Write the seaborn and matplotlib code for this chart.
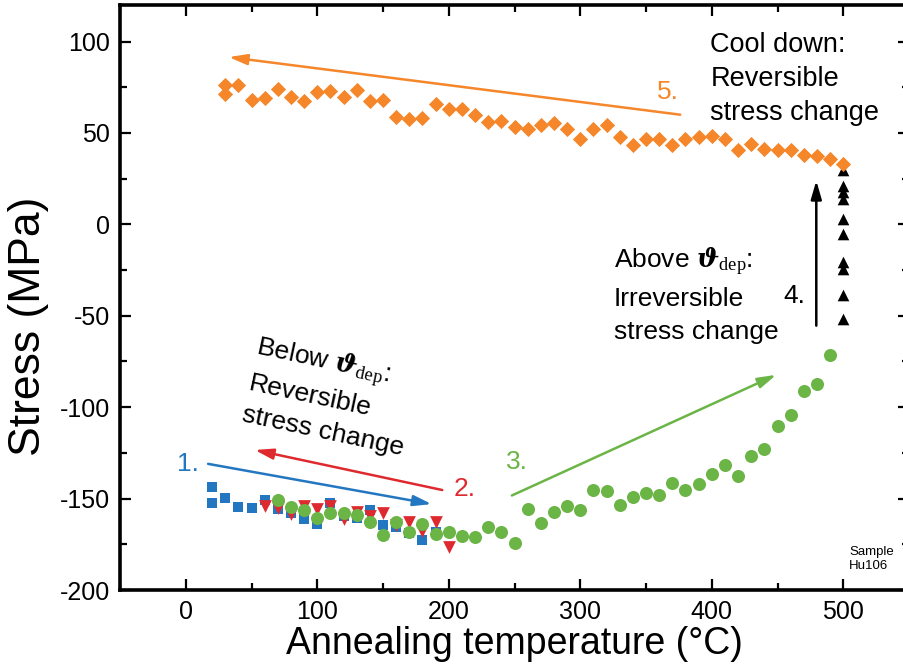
import matplotlib
matplotlib.use("Agg")
import matplotlib.pyplot as plt
import seaborn as sns
import pandas as pd
from matplotlib.ticker import MultipleLocator

# ---- data -----------------------------------------------------------------
# 1. first heating (blue squares)
heat1_T = [20, 20, 30, 40, 50, 60, 70, 80, 90, 100, 110, 120, 130, 140, 150,
           160, 170, 180, 190]
heat1_S = [-143.7, -152.5, -149.8, -154.7, -155.2, -151.0, -155.6, -158.0,
           -161.4, -163.8, -152.5, -159.3, -160.7, -156.2, -164.4, -165.6,
           -168.9, -172.4, -168.4]

# 2. first cool down (red down-triangles)
cool1_T = [60, 70, 80, 90, 100, 110, 120, 130, 140, 150, 160, 170, 180, 190, 200]
cool1_S = [-154.2, -155.2, -158.3, -154.2, -155.6, -154.2, -161.1, -157.1,
           -159.3, -158.0, -164.7, -162.6, -167.5, -162.6, -176.6]

# 3. second heating up to 490 degC (green circles)
heat2_T = [70, 80, 90, 100, 110, 120, 130, 140, 150, 160, 170, 180, 190, 200,
           210, 220, 230, 240, 250, 260, 270, 280, 290, 300, 310, 320, 330,
           340, 350, 360, 370, 380, 390, 400, 410, 420, 430, 440, 450, 460,
           470, 480, 490]
heat2_S = [-151.0, -154.7, -156.5, -160.7, -157.8, -157.8, -158.9, -162.9,
           -169.8, -162.9, -168.4, -163.8, -169.3, -168.4, -170.2, -170.8,
           -165.6, -168.4, -174.2, -155.6, -163.4, -157.1, -154.1, -156.2,
           -145.2, -145.6, -153.3, -149.2, -147.0, -148.3, -141.4, -145.2,
           -141.9, -136.5, -131.4, -137.4, -126.8, -122.8, -110.3, -104.5,
           -90.9, -87.2, -71.7]

# 4. holding at 500 degC (black up-triangles)
hold_T = [500, 500, 500, 500, 500, 500, 500, 500, 500, 500]
hold_S = [30.0, 21.0, 17.7, 14.1, 3.1, -5.1, -20.6, -24.6, -38.9, -52.0]

# 5. final cool down (orange diamonds)
cool2_T = [30, 30, 40, 50, 60, 70, 80, 90, 100, 110, 120, 130, 140, 150, 160,
           170, 180, 190, 200, 210, 220, 230, 240, 250, 260, 270, 280, 290,
           300, 310, 320, 330, 340, 350, 360, 370, 380, 390, 400, 410, 420,
           430, 440, 450, 460, 470, 480, 490, 500]
cool2_S = [76.5, 71.5, 76.5, 67.9, 69.2, 74.3, 69.7, 67.5, 72.5, 72.8, 69.7,
           73.7, 67.3, 67.9, 58.8, 57.9, 58.4, 66.1, 63.3, 62.9, 59.7, 56.0,
           56.4, 53.3, 52.0, 54.2, 55.5, 52.0, 46.5, 52.4, 54.6, 47.8, 43.2,
           46.5, 46.9, 43.2, 46.5, 47.8, 48.4, 46.5, 40.5, 44.2, 41.4, 40.9,
           40.5, 38.2, 37.2, 35.6, 33.2]

x_ticks = [0, 100, 200, 300, 400, 500]
y_ticks = [-200, -150, -100, -50, 0, 50, 100]

BLUE = "#2377c0"
RED = "#de2a2e"
GREEN = "#6bb446"
ORANGE = "#f5862a"
BLACK = "#000000"

# ---- style ----------------------------------------------------------------
sns.set_theme(style="ticks")
plt.rcParams["font.family"] = ["Liberation Sans", "DejaVu Sans"]
plt.rcParams["mathtext.fontset"] = "custom"
plt.rcParams["mathtext.rm"] = "Liberation Serif"
plt.rcParams["mathtext.it"] = "Liberation Serif:italic"
plt.rcParams["mathtext.bf"] = "DejaVu Serif:italic:bold"
plt.rcParams["axes.unicode_minus"] = False
plt.rcParams["text.color"] = "black"
plt.rcParams["axes.labelcolor"] = "black"

fig = plt.figure(figsize=(9.04, 6.68), dpi=100)
ax = fig.add_axes([120 / 904, 78 / 668, 789 / 904, 585 / 668])

series = [
    (heat1_T, heat1_S, BLUE, "s", 60),
    (cool1_T, cool1_S, RED, "v", 84),
    (heat2_T, heat2_S, GREEN, "o", 88),
    (hold_T, hold_S, BLACK, "^", 70),
    (cool2_T, cool2_S, ORANGE, "D", 60),
]
for T, S, col, mk, size in series:
    df = pd.DataFrame({"T": T, "S": S})
    sns.scatterplot(data=df, x="T", y="S", ax=ax, color=col, marker=mk,
                    s=size, linewidth=0, zorder=3)

ax.set_xlim(-50, 550)
ax.set_ylim(-200, 120)
ax.set_xticks(x_ticks)
ax.set_yticks(y_ticks)
ax.xaxis.set_minor_locator(MultipleLocator(50))
ax.yaxis.set_minor_locator(MultipleLocator(25))
ax.tick_params(which="both", direction="in", top=True, right=True,
               width=1.6, colors="black", labelsize=18, pad=7)
ax.tick_params(which="major", length=8)
ax.tick_params(which="minor", length=5)
for sp in ax.spines.values():
    sp.set_linewidth(2.6)
    sp.set_color("black")

ax.set_xlabel("Annealing temperature (°C)", fontsize=27, labelpad=2)
ax.set_ylabel("Stress (MPa)", fontsize=32)
ax.yaxis.set_label_coords(-0.09, 0.45)


# ---- arrows and step labels ---------------------------------------------
def arrow(start, end, col):
    ax.annotate("", xy=end, xytext=start,
                arrowprops=dict(arrowstyle="-|>,head_length=1.1,head_width=0.32",
                                color=col, lw=1.8, shrinkA=0, shrinkB=0,
                                mutation_scale=10),
                zorder=2)


arrow((17, -131), (187, -153), BLUE)
arrow((195, -145.3), (52.5, -123.4), RED)
arrow((248, -148.3), (449, -82.3), GREEN)
arrow((479.5, -55.4), (479.5, 23.9), BLACK)
arrow((376, 60.0), (32.7, 91.5), ORANGE)

num_kw = dict(fontsize=19, ha="center", va="center")
ax.text(2, -131, "1.", color=BLUE, **num_kw)
ax.text(212, -145, "2.", color=RED, **num_kw)
ax.text(252, -130, "3.", color=GREEN, **num_kw)
ax.text(463, -39, "4.", color=BLACK, **num_kw)
ax.text(367, 72.5, "5.", color=ORANGE, **num_kw)

theta = r"$\mathbf{\vartheta}_{\mathrm{dep}}$"
ax.text(399, 105, "Cool down:\nReversible\nstress change", fontsize=19.5,
        ha="left", va="top", linespacing=1.4)
ax.text(325.5, -12, f"Above {theta}:\nIrreversible\nstress change",
        fontsize=19, ha="left", va="top", linespacing=1.45)
ax.text(110, -94, f"Below {theta}:\nReversible\nstress change", fontsize=19,
        ha="center", va="center", multialignment="left", rotation=-12,
        linespacing=1.4)
ax.text(504.5, -176, "Sample\nHu106", fontsize=9.5, ha="left", va="top")

fig.savefig("out.png", dpi=100)
